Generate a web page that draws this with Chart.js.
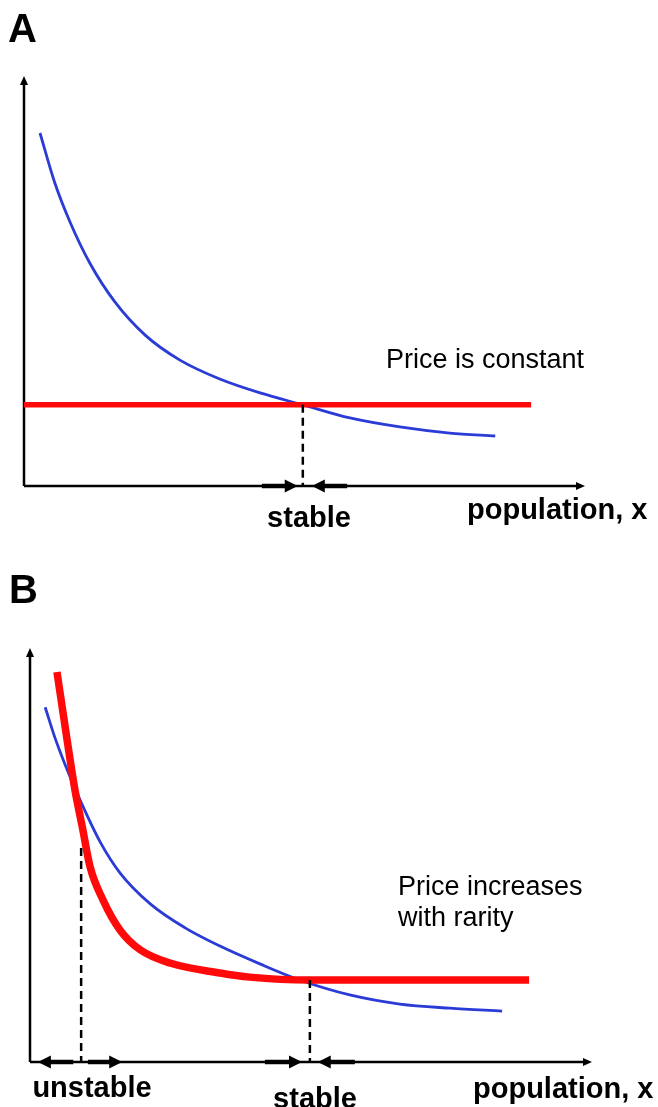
<!DOCTYPE html>
<html>
<head>
<meta charset="utf-8">
<script src="https://cdn.jsdelivr.net/npm/chart.js@4.4.0/dist/chart.umd.min.js"></script>
<style>
  html, body { margin: 0; padding: 0; background: #fff; }
  .panel { position: absolute; left: 0; width: 658px; }
  #panelA { top: 0; height: 553px; }
  #panelB { top: 553px; height: 554px; }
</style>
</head>
<body>
<div class="panel" id="panelA"><canvas id="chartA" width="658" height="553"></canvas></div>
<div class="panel" id="panelB"><canvas id="chartB" width="658" height="554"></canvas></div>
<script>
// ---------------- DATA ----------------
// axes run 0..100 in both directions (population x, value y)

// Panel A - price is constant
const costA_x = [2.85, 5.5, 8.2, 11.8, 16.2, 21.6, 27.8, 34.9, 42.1, 49.7, 58.1, 67.0, 75.9, 84.0];
const costA_y = [86.1, 73.9, 64.4, 54.2, 44.9, 36.8, 30.7, 26.1, 22.7, 19.8, 16.6, 14.4, 12.9, 12.2];
const priceA_x = [0, 90.4];
const priceA_y = [19.8, 19.8];
const equilA = [49.7];          // dashed drop lines
const equilA_top = [19.8];
const arrowsA = [[42.4, 48.8], [57.6, 51.3]];   // [from, to] on x axis

// Panel B - price increases with rarity
const costB_x = [2.7, 4.45, 6.2, 8.9, 12.5, 16.0, 21.4, 27.6, 33.8, 40.9, 48.0, 56.9, 65.8, 74.7, 84.0];
const costB_y = [85.7, 78.3, 72.0, 63.3, 53.1, 45.7, 38.2, 32.4, 28.0, 23.7, 19.8, 16.2, 14.0, 13.0, 12.3];
const priceB_x = [4.8, 6.6, 8.0, 9.3, 10.7, 13.0, 16.0, 19.6, 24.9, 33.8, 39.1, 49.8, 65.8, 88.8];
const priceB_y = [94.2, 77.8, 65.7, 56.8, 47.1, 39.1, 31.9, 27.1, 23.9, 21.5, 20.5, 19.8, 19.8, 19.8];
const equilB = [9.1, 49.8];
const equilB_top = [51.7, 19.8];
const arrowsB = [[7.7, 1.4], [10.3, 16.4], [41.8, 48.4], [57.8, 51.2]];

const BLUE = "#2b3bd6";
const RED = "#ff0a0a";
const FONT = "'Liberation Sans', Arial, Helvetica, sans-serif";

function toPoints(xs, ys) {
    return xs.map((x, i) => ({ x: x, y: ys[i] }));
}

// ---------------- DRAWING HELPERS ----------------

function arrowHead(ctx, x, y, dir, len, half) {
    // dir: 'up' | 'right' | 'left'
    ctx.beginPath();
    if (dir === "up") {
        ctx.moveTo(x, y);
        ctx.lineTo(x - half, y + len);
        ctx.lineTo(x + half, y + len);
    } else if (dir === "right") {
        ctx.moveTo(x, y);
        ctx.lineTo(x - len, y - half);
        ctx.lineTo(x - len, y + half);
    } else {
        ctx.moveTo(x, y);
        ctx.lineTo(x + len, y - half);
        ctx.lineTo(x + len, y + half);
    }
    ctx.closePath();
    ctx.fill();
}

function panelPlugin(opts) {
    return {
        id: "panel" + opts.letter,
        beforeDatasetsDraw(chart) {
            const { ctx, chartArea: a } = chart;
            ctx.save();
            ctx.strokeStyle = "#000";
            ctx.fillStyle = "#000";
            ctx.lineWidth = 2.5;
            // y axis
            ctx.beginPath();
            ctx.moveTo(a.left, a.bottom);
            ctx.lineTo(a.left, a.top + 6);
            ctx.stroke();
            arrowHead(ctx, a.left, a.top, "up", 9, 4);
            // x axis
            ctx.beginPath();
            ctx.moveTo(a.left, a.bottom);
            ctx.lineTo(a.right - 6, a.bottom);
            ctx.stroke();
            arrowHead(ctx, a.right, a.bottom, "right", 9, 4);
            ctx.restore();
        },
        afterDatasetsDraw(chart) {
            const { ctx, chartArea: a, scales } = chart;
            const xs = scales.x, ys = scales.y;
            ctx.save();
            // dashed drop lines
            ctx.strokeStyle = "#000";
            ctx.lineWidth = 2.5;
            ctx.setLineDash([8, 5]);
            opts.equil.forEach((ex, i) => {
                const px = xs.getPixelForValue(ex);
                ctx.beginPath();
                ctx.moveTo(px, ys.getPixelForValue(opts.equilTop[i]));
                ctx.lineTo(px, a.bottom);
                ctx.stroke();
            });
            ctx.setLineDash([]);
            // stability arrows on the x axis
            ctx.fillStyle = "#000";
            ctx.lineWidth = 4.5;
            opts.arrows.forEach(([from, to]) => {
                const p0 = xs.getPixelForValue(from);
                const p1 = xs.getPixelForValue(to);
                const dir = p1 > p0 ? "right" : "left";
                const back = dir === "right" ? -10 : 10;
                ctx.beginPath();
                ctx.moveTo(p0, a.bottom);
                ctx.lineTo(p1 + back, a.bottom);
                ctx.stroke();
                arrowHead(ctx, p1, a.bottom, dir, 13, 6.5);
            });
            // texts
            ctx.fillStyle = "#000";
            ctx.textBaseline = "alphabetic";
            opts.texts.forEach(t => {
                ctx.font = t.font;
                ctx.textAlign = t.align || "left";
                ctx.fillText(t.text, t.x, t.y);
            });
            ctx.restore();
        }
    };
}

function makeChart(canvasId, datasets, padding, opts) {
    return new Chart(document.getElementById(canvasId), {
        type: "line",
        data: { datasets: datasets },
        options: {
            responsive: false,
            animation: false,
            events: [],
            layout: { padding: padding },
            plugins: { legend: { display: false }, tooltip: { enabled: false } },
            scales: {
                x: { type: "linear", min: 0, max: 100, display: false },
                y: { type: "linear", min: 0, max: 100, display: false }
            }
        },
        plugins: [panelPlugin(opts)]
    });
}

// ---------------- PANEL A ----------------

makeChart("chartA", [
    {
        data: toPoints(priceA_x, priceA_y),
        borderColor: RED, borderWidth: 5.5, pointRadius: 0, tension: 0
    },
    {
        data: toPoints(costA_x, costA_y),
        borderColor: BLUE, borderWidth: 2.8, pointRadius: 0, cubicInterpolationMode: "monotone"
    }
], { left: 24, right: 73, top: 76, bottom: 67 }, {
    letter: "A",
    equil: equilA, equilTop: equilA_top, arrows: arrowsA,
    texts: [
        { text: "A", x: 8, y: 42, font: "bold 40px " + FONT },
        { text: "Price is constant", x: 386, y: 368, font: "27px " + FONT },
        { text: "stable", x: 309, y: 527, font: "bold 29px " + FONT, align: "center" },
        { text: "population, x", x: 467, y: 519, font: "bold 29px " + FONT }
    ]
});

// ---------------- PANEL B ----------------

makeChart("chartB", [
    {
        data: toPoints(priceB_x, priceB_y),
        borderColor: RED, borderWidth: 7.5, pointRadius: 0, cubicInterpolationMode: "monotone"
    },
    {
        data: toPoints(costB_x, costB_y),
        borderColor: BLUE, borderWidth: 2.8, pointRadius: 0, cubicInterpolationMode: "monotone"
    }
], { left: 30, right: 66, top: 95, bottom: 45 }, {
    letter: "B",
    equil: equilB, equilTop: equilB_top, arrows: arrowsB,
    texts: [
        { text: "B", x: 9, y: 50, font: "bold 40px " + FONT },
        { text: "Price increases", x: 398, y: 342, font: "27px " + FONT },
        { text: "with rarity", x: 398, y: 373, font: "27px " + FONT },
        { text: "unstable", x: 92, y: 544, font: "bold 29px " + FONT, align: "center" },
        { text: "stable", x: 315, y: 555, font: "bold 29px " + FONT, align: "center" },
        { text: "population, x", x: 473, y: 545, font: "bold 29px " + FONT }
    ]
});
</script>
</body>
</html>
